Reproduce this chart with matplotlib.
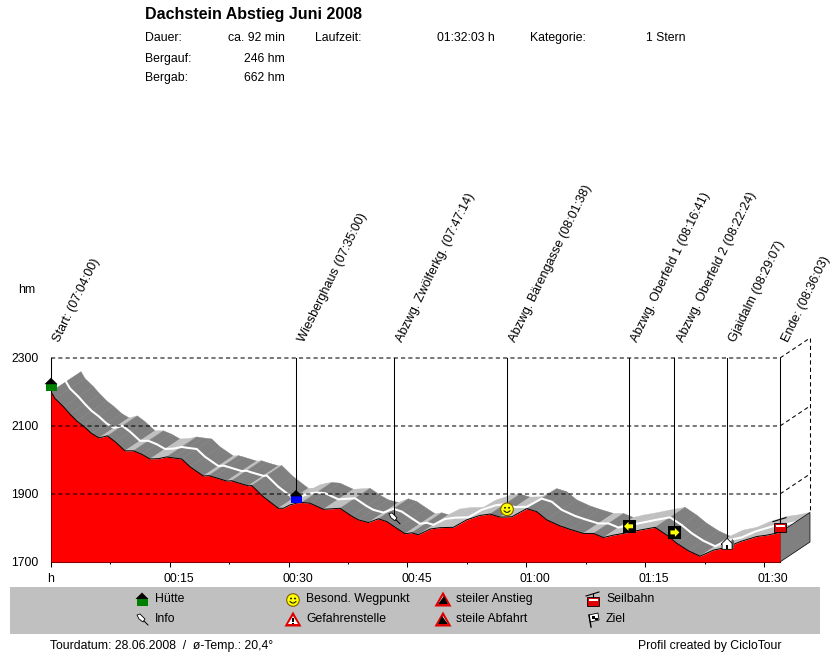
import matplotlib
matplotlib.use("Agg")
import matplotlib.pyplot as plt
from matplotlib.patches import Polygon, Rectangle, Circle

plt.rcParams['font.family'] = ['Liberation Sans', 'DejaVu Sans']
plt.rcParams['font.size'] = 8.85

# profile: minutes, hm
minutes = [0, 0.5, 1.56, 2.4, 3.24, 4.08, 5.13, 6.06, 7.11, 8.08, 9.34, 10.4, 11.45, 12.5, 13.55, 14.6,
           15.45, 16.5, 17.55, 19.23, 19.9, 20.5, 22.18, 22.8, 23.44, 24.9, 25.34, 26.8, 28.7, 29.33, 30.18, 31.0, 31.65,
           32.7, 34.39, 36.49, 37.96, 38.8, 40.07, 41.33, 42.38, 43.65, 44.7, 45.54, 46.38, 47.85, 49.12,
           50.8, 52.48, 54.17, 55.43, 56.69, 58.17, 60.06, 61.32, 62.58, 64.27, 65.53, 67.21, 68.48, 69.74,
           71.0, 72.69, 74.37, 76.26, 77.74, 79.0, 80.47, 81.94, 83.63, 85.31, 87.0, 89.1, 90.36, 92.03]
height = [2201, 2181, 2157, 2135, 2115, 2100, 2078, 2065, 2071, 2054, 2027, 2027, 2017, 2003, 2004, 2009,
          2006, 2003, 1980, 1953, 1954, 1950, 1938, 1939, 1934, 1924, 1925, 1892, 1858, 1858, 1868, 1873, 1875,
          1873, 1855, 1858, 1835, 1824, 1816, 1827, 1819, 1799, 1783, 1786, 1780, 1797, 1801,
          1802, 1824, 1837, 1841, 1832, 1833, 1857, 1848, 1824, 1806, 1796, 1784, 1784, 1772,
          1779, 1786, 1794, 1802, 1779, 1755, 1733, 1717, 1735, 1743, 1760, 1775, 1779, 1787]

event_names = ['Start: (07:04:00)', 'Wiesberghaus (07:35:00)', 'Abzwg. Zwölferkg. (07:47:14)',
               'Abzwg. Bärengasse (08:01:38)', 'Abzwg. Oberfeld 1 (08:16:41)', 'Abzwg. Oberfeld 2 (08:22:24)',
               'Gjaidalm (08:29:07)', 'Ende: (08:36:03)']
event_min = [0, 30.93, 43.3, 57.57, 72.97, 78.7, 85.35, 92.03]
event_hm = [2220, 1890, 1827, 1855, 1805, 1787, 1752, 1807]
event_icon = ['hut', 'blue', 'pin', 'smile', 'left', 'right', 'house', 'cable']

hm_ticks = [1700, 1900, 2100, 2300]
major_min = [0, 15, 30, 45, 60, 75, 90]
major_lab = ['h', '00:15', '00:30', '00:45', '01:00', '01:15', '01:30']
minor_min = [7.5, 22.5, 37.5, 52.5, 67.5, 82.5]

info_left = [('Dauer:', 'ca. 92 min'), ('Bergauf:', '246 hm'), ('Bergab:', '662 hm')]
legend_items = [(141, 599, 'hut', 'Hütte'), (141, 619, 'pin', 'Info'),
                (292, 599, 'smile', 'Besond. Wegpunkt'), (292, 619, 'warn', 'Gefahrenstelle'),
                (442, 599, 'up', 'steiler Anstieg'), (442, 619, 'down', 'steile Abfahrt'),
                (592, 599, 'cable', 'Seilbahn'), (592, 619, 'flag', 'Ziel')]

W, H = 830, 652
fig = plt.figure(figsize=(W / 100, H / 100), dpi=100)
ax = fig.add_axes([51 / W, 1 - 562 / H, 729 / W, 204 / H])
ax.set_xlim(0, 92.03)
ax.set_ylim(1700, 2300)
ax.patch.set_alpha(0)
for s in ['top', 'right']:
    ax.spines[s].set_visible(False)
ax.spines['left'].set_linewidth(0.75)
ax.spines['bottom'].set_linewidth(0.75)

# pixel layer for header, legend and icons
pg = fig.add_axes([0, 0, 1, 1], zorder=5)
pg.set_xlim(0, W)
pg.set_ylim(H, 0)
pg.axis('off')

# depth of the 3d look in data units: 30px right, 20px up
dt = 30 / 729 * 92.03
dh = 20 / 204 * 600

# ribbon behind the profile
for i in range(len(minutes) - 1):
    t0, t1 = minutes[i], minutes[i + 1]
    h0, h1 = height[i], height[i + 1]
    col = '#808080' if h1 < h0 else '#c0c0c0'
    ax.add_patch(Polygon([(t0, h0), (t1, h1), (t1 + dt, h1 + dh), (t0 + dt, h0 + dh)],
                         closed=True, fc=col, ec=col, lw=0.3, zorder=2, clip_on=False))
ax.plot([t + dt / 2 for t in minutes], [h + dh / 2 for h in height], color='white', lw=1.5, zorder=3,
        clip_on=False, solid_joinstyle='round')

# end face
ax.add_patch(Polygon([(92.03, 1700), (92.03 + dt, 1700 + dh), (92.03 + dt, 1787 + dh), (92.03, 1787)],
                     closed=True, fc='#808080', ec='black', lw=0.5, zorder=3, clip_on=False))

ax.fill_between(minutes, height, 1700, color='#ff0000', lw=0, zorder=4)
ax.plot(minutes, height, color='black', lw=0.7, zorder=5)

# dashed walls
for v in hm_ticks[1:]:
    ax.plot([0, 92.03, 92.03 + dt], [v, v, v + dh], color='black', lw=0.75, ls=(0, (4, 3)), zorder=6, clip_on=False)
ax.plot([92.03 + dt, 92.03 + dt], [2300 + dh, 1787 + dh], color='black', lw=0.75, ls=(0, (4, 3)), zorder=6, clip_on=False)

ax.set_xticks(major_min)
ax.set_xticks(minor_min, minor=True)
ax.set_xticklabels([])
ax.tick_params(axis='x', which='major', length=3.6, width=0.75)
ax.tick_params(axis='x', which='minor', length=1.5, width=0.75)
ax.set_yticks(hm_ticks)
ax.set_yticklabels([str(v) for v in hm_ticks])
ax.tick_params(axis='y', length=0, pad=9, labelsize=8.85)
for t, lab in zip(major_min, major_lab):
    off = 0 if lab == 'h' else 6.5
    ax.annotate(lab, (t, 1700), xytext=(off, -8), textcoords='offset points', ha='center', va='top', fontsize=8.85)


def to_px(t, h):
    xy = ax.transData.transform((t, h))
    return xy[0], H - xy[1]


def poly(pts, x, y, **kw):
    kw.setdefault('lw', 0)
    pg.add_patch(Polygon([(x + a, y + b) for a, b in pts], closed=True, **kw))


def draw_icon(kind, x, y):
    if kind in ('hut', 'blue'):
        col = '#008000' if kind == 'hut' else '#0000ff'
        pg.add_patch(Rectangle((x - 5.5, y - 1), 11, 7, fc=col, lw=0))
        poly([(-6.5, -1), (0, -7.5), (6.5, -1)], x, y, fc='black')
    elif kind == 'smile':
        pg.add_patch(Circle((x, y), 6.3, fc='#ffff00', ec='#806000', lw=0.8))
        pg.add_patch(Circle((x - 2, y - 1.5), 0.9, fc='black', lw=0))
        pg.add_patch(Circle((x + 2, y - 1.5), 0.9, fc='black', lw=0))
        pg.plot([x - 3, x - 1, x + 1, x + 3], [y + 1.5, y + 3, y + 3, y + 1.5], color='black', lw=0.7)
    elif kind == 'pin':
        poly([(-5, -5), (-2, -6), (3, -1), (1, 2), (-3, -1)], x, y, fc='white', ec='black', lw=0.6)
        pg.plot([x + 2, x + 6], [y + 1, y + 5], color='black', lw=0.7)
    elif kind in ('left', 'right'):
        pg.add_patch(Rectangle((x - 6.5, y - 6.5), 13, 13, fc='black', lw=0))
        s = -1 if kind == 'left' else 1
        poly([(s * 5, 0), (s * 0.5, -4.5), (s * 0.5, -2), (s * -4, -2), (s * -4, 2), (s * 0.5, 2), (s * 0.5, 4.5)],
             x, y, fc='#ffff00')
    elif kind == 'house':
        poly([(5, -6), (7, -3), (7, 4), (3, 4)], x, y, fc='#606060')
        poly([(-6, 0), (0, -6), (5, -1), (5, 5), (-5, 5), (-5, 0)], x, y, fc='white', ec='black', lw=0.6)
        pg.add_patch(Rectangle((x - 1, y + 1), 2, 4, fc='black', lw=0))
    elif kind == 'cable':
        pg.plot([x - 7, x + 6], [y - 4, y - 8], color='black', lw=0.8)
        pg.plot([x, x], [y - 6, y - 3], color='black', lw=0.8)
        pg.add_patch(Rectangle((x - 6, y - 3), 12, 9, fc='#e00000', ec='black', lw=0.6))
        pg.add_patch(Rectangle((x - 4.5, y - 1), 9, 2, fc='white', lw=0))
    elif kind in ('warn', 'up', 'down'):
        poly([(0, -8.5), (8.5, 6.5), (-8.5, 6.5)], x, y, fc='#e00000')
        poly([(0, -4), (5, 4), (-5, 4)], x, y, fc='white')
        if kind == 'warn':
            pg.add_patch(Rectangle((x - 0.8, y - 2), 1.6, 4, fc='black', lw=0))
            pg.add_patch(Rectangle((x - 0.8, y + 2.6), 1.6, 1.4, fc='black', lw=0))
        elif kind == 'up':
            poly([(-5, 4), (1, -4), (5, 4)], x, y, fc='black')
        else:
            poly([(-5, 4), (-1, -4), (5, 4)], x, y, fc='black')
    elif kind == 'flag':
        pg.plot([x - 4, x - 2], [y - 5, y + 7], color='black', lw=1)
        poly([(-4, -5), (5, -7), (6, 0), (-3, 2)], x, y, fc='white', ec='black', lw=0.6)
        pg.add_patch(Rectangle((x - 1, y - 4), 2.5, 2.5, fc='black', lw=0))
        pg.add_patch(Rectangle((x + 2, y - 2), 2.5, 2, fc='black', lw=0))


# event lines, names and icons
for t, name, h, kind in zip(event_min, event_names, event_hm, event_icon):
    ax.plot([t, t], [2300, h], color='black', lw=0.75, zorder=7, clip_on=False)
    x, y = to_px(t, h)
    draw_icon(kind, x, y)
    top_x, top_y = to_px(t, 2300)
    pg.text(top_x + 6, top_y - 17, name, rotation=64, rotation_mode='anchor', ha='left', va='center', fontsize=9.1)

# header
pg.text(145, 14, 'Dachstein Abstieg Juni 2008', fontsize=11.5, fontweight='bold', va='center', ha='left')
for row, (a, b) in zip([38, 59, 78], info_left):
    pg.text(145, row, a, va='center', ha='left')
    pg.text(285, row, b, va='center', ha='right')
pg.text(315, 38, 'Laufzeit:', va='center', ha='left')
pg.text(495, 38, '01:32:03 h', va='center', ha='right')
pg.text(530, 38, 'Kategorie:', va='center', ha='left')
pg.text(685, 38, '1 Stern', va='center', ha='right')
pg.text(18, 290, 'hm', va='center', ha='left')

# legend band
pg.add_patch(Rectangle((10, 587), 810, 47, fc='#c0c0c0', lw=0))
for x, y, kind, lab in legend_items:
    draw_icon(kind, x + 1, y + 1)
    pg.text(x + 14, y, lab, va='center', ha='left')

pg.text(50, 646, 'Tourdatum: 28.06.2008  /  ø-Temp.: 20,4°', va='center', ha='left')
pg.text(781, 646, 'Profil created by CicloTour', va='center', ha='right')

fig.savefig('out.png', dpi=100)
